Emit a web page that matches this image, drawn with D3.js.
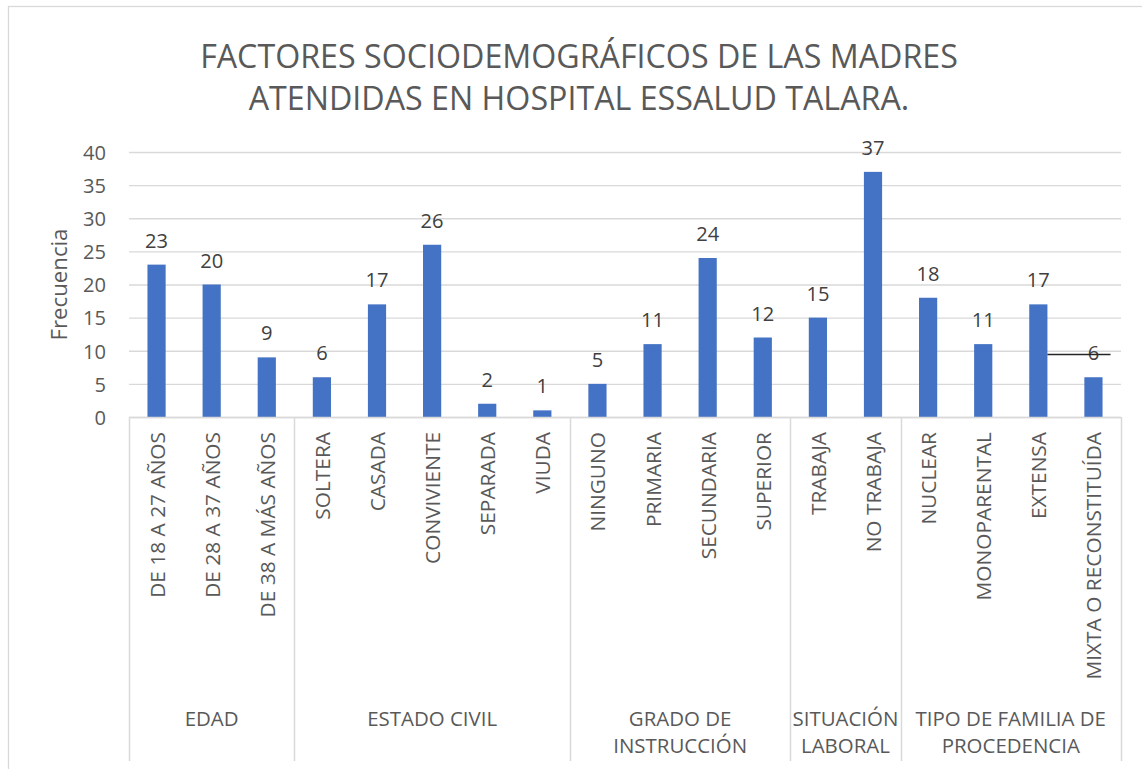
<!DOCTYPE html>
<html>
<head>
<meta charset="utf-8">
<script src="https://cdn.jsdelivr.net/npm/d3@7"></script>
<style>
  body { margin: 0; background: #fff; }
  svg { font-family: "Open Sans", "Noto Sans", sans-serif; }
</style>
</head>
<body>
<script>
// data
const groups = ["EDAD", "ESTADO CIVIL", "GRADO DE|INSTRUCCIÓN", "SITUACIÓN|LABORAL", "TIPO DE FAMILIA DE|PROCEDENCIA"];
const groupSizes = [3, 5, 4, 2, 4];
const categories = [
  "DE 18 A 27 AÑOS", "DE 28 A 37 AÑOS", "DE 38 A MÁS AÑOS",
  "SOLTERA", "CASADA", "CONVIVIENTE", "SEPARADA", "VIUDA",
  "NINGUNO", "PRIMARIA", "SECUNDARIA", "SUPERIOR",
  "TRABAJA", "NO TRABAJA",
  "NUCLEAR", "MONOPARENTAL", "EXTENSA", "MIXTA O RECONSTITUÍDA"
];
const values = [23, 20, 9, 6, 17, 26, 2, 1, 5, 11, 24, 12, 15, 37, 18, 11, 17, 6];
const yTicks = [0, 5, 10, 15, 20, 25, 30, 35, 40];
const titleLines = ["FACTORES SOCIODEMOGRÁFICOS DE LAS MADRES", "ATENDIDAS EN HOSPITAL ESSALUD TALARA."];

const W = 1142, H = 769;
const plot = {left: 129, right: 1121, top: 152, bottom: 417};
const textCol = "#595959";

const svg = d3.select("body").append("svg")
  .attr("width", W).attr("height", H);

// chart frame
svg.append("rect")
  .attr("x", 8.5).attr("y", 6.5)
  .attr("width", 1145).attr("height", 780)
  .attr("fill", "#fff").attr("stroke", "#d9d9d9").attr("stroke-width", 1.3);

const x = d3.scaleBand()
  .domain(categories)
  .range([plot.left, plot.right])
  .paddingInner(0.67).paddingOuter(0.335);

const y = d3.scaleLinear()
  .domain([0, 40])
  .range([plot.bottom, plot.top]);

// scale the font of a whole selection so that its first element gets the target width
function fit(sel, target) {
  const node = sel.node();
  const fs = parseFloat(d3.select(node).attr("font-size"));
  const size = fs * target / node.getComputedTextLength();
  sel.attr("font-size", size);
  return size;
}

// title
const title = svg.append("g").attr("fill", textCol);
const tt = title.selectAll("text")
  .data(titleLines)
  .join("text")
  .attr("x", 579)
  .attr("y", (d, i) => 68 + i * 42)
  .attr("text-anchor", "middle")
  .attr("font-size", 30)
  .text(d => d);
fit(tt, 758);

// gridlines + y axis
const yAxis = svg.append("g")
  .attr("transform", `translate(${plot.left},0)`)
  .call(d3.axisLeft(y).tickValues(yTicks).tickSize(-(plot.right - plot.left)).tickPadding(23));
yAxis.select(".domain").remove();
yAxis.selectAll(".tick line").attr("stroke", "#d9d9d9").attr("stroke-width", 1.3);
const yt = yAxis.selectAll(".tick text")
  .attr("fill", textCol)
  .attr("font-size", 18)
  .attr("font-family", "'Open Sans', sans-serif")
  .attr("dy", "0.36em");
fit(yAxis.selectAll(".tick").filter(d => d === 40).select("text"), 23);
yt.attr("font-size", yAxis.selectAll(".tick").filter(d => d === 40).select("text").attr("font-size"));
const numSize = +yt.attr("font-size");

const yl = svg.append("text")
  .attr("transform", `translate(67,${(plot.top + plot.bottom) / 2}) rotate(-90)`)
  .attr("text-anchor", "middle")
  .attr("fill", textCol)
  .attr("font-size", 18)
  .text("Frecuencia");
fit(yl, 112);

// bars
svg.append("g")
  .selectAll("rect")
  .data(values)
  .join("rect")
  .attr("x", (d, i) => x(categories[i]))
  .attr("y", d => y(d))
  .attr("width", x.bandwidth())
  .attr("height", d => y(0) - y(d))
  .attr("fill", "#4472c4");

// data labels
svg.append("g")
  .selectAll("text")
  .data(values)
  .join("text")
  .attr("x", (d, i) => x(categories[i]) + x.bandwidth() / 2)
  .attr("y", d => y(d) - 17)
  .attr("text-anchor", "middle")
  .attr("fill", "#404040")
  .attr("font-size", numSize)
  .text(d => d);

// stray line over last label, as in the reference
svg.append("line")
  .attr("x1", x("EXTENSA") + x.bandwidth())
  .attr("x2", x("MIXTA O RECONSTITUÍDA") + x.bandwidth() + 8)
  .attr("y1", 354.5).attr("y2", 354.5)
  .attr("stroke", "#262626").attr("stroke-width", 1.5);

// category axis line
svg.append("line")
  .attr("x1", plot.left).attr("x2", plot.right)
  .attr("y1", plot.bottom + 0.5).attr("y2", plot.bottom + 0.5)
  .attr("stroke", "#d9d9d9").attr("stroke-width", 1.5);

// category labels (rotated)
const cl = svg.append("g")
  .selectAll("text")
  .data(categories)
  .join("text")
  .attr("transform", d => `translate(${x(d) + x.bandwidth() / 2 + 8},432) rotate(-90)`)
  .attr("text-anchor", "end")
  .attr("fill", textCol)
  .attr("font-size", 16)
  .text(d => d);
fit(cl, 166);

// group separators and labels
const bounds = [0];
groupSizes.forEach(n => bounds.push(bounds[bounds.length - 1] + n));
const step = (plot.right - plot.left) / categories.length;

svg.append("g")
  .selectAll("line")
  .data(bounds)
  .join("line")
  .attr("x1", d => Math.round(plot.left + d * step) + 0.5)
  .attr("x2", d => Math.round(plot.left + d * step) + 0.5)
  .attr("y1", plot.bottom)
  .attr("y2", 761)
  .attr("stroke", "#d9d9d9").attr("stroke-width", 1.5);

const gl = svg.append("g")
  .selectAll("text")
  .data(groups)
  .join("text")
  .attr("x", (d, i) => plot.left + (bounds[i] + bounds[i + 1]) / 2 * step)
  .attr("y", 726)
  .attr("text-anchor", "middle")
  .attr("fill", textCol)
  .attr("font-size", 17);
gl.selectAll("tspan")
  .data(d => d.split("|"))
  .join("tspan")
  .attr("x", function () { return this.parentNode.getAttribute("x"); })
  .attr("dy", (d, i) => i === 0 ? 0 : 27)
  .text(d => d);
fit(gl, 54);
</script>
</body>
</html>
